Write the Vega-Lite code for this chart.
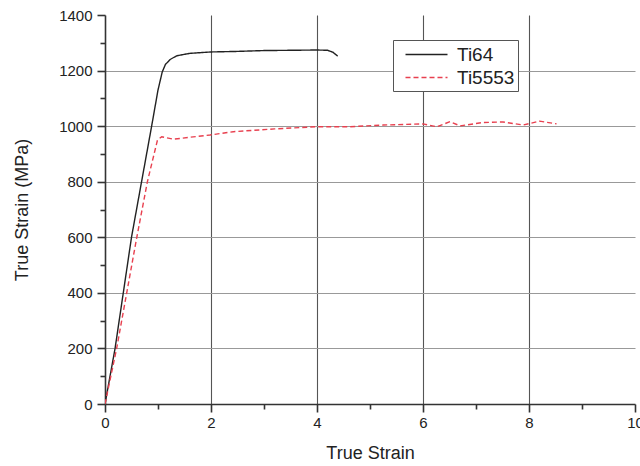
{
  "$schema": "https://vega.github.io/schema/vega-lite/v6.json",
  "width": 530,
  "height": 389,
  "autosize": {"type": "none"},
  "padding": {"left": 105, "top": 15, "right": 5, "bottom": 62},
  "background": "white",
  "config": {
    "view": {"stroke": null},
    "font": "Liberation Sans"
  },
  "data": {
    "values": [
      {"alloy": "Ti64", "strain": 0.0, "stress": 0},
      {"alloy": "Ti64", "strain": 0.19, "stress": 200},
      {"alloy": "Ti64", "strain": 0.5, "stress": 600},
      {"alloy": "Ti64", "strain": 0.69, "stress": 800},
      {"alloy": "Ti64", "strain": 0.88, "stress": 1000},
      {"alloy": "Ti64", "strain": 1.0, "stress": 1130},
      {"alloy": "Ti64", "strain": 1.08, "stress": 1195},
      {"alloy": "Ti64", "strain": 1.14, "stress": 1222},
      {"alloy": "Ti64", "strain": 1.23, "stress": 1240},
      {"alloy": "Ti64", "strain": 1.35, "stress": 1253},
      {"alloy": "Ti64", "strain": 1.6, "stress": 1262},
      {"alloy": "Ti64", "strain": 2.0, "stress": 1267},
      {"alloy": "Ti64", "strain": 2.5, "stress": 1269},
      {"alloy": "Ti64", "strain": 3.0, "stress": 1272},
      {"alloy": "Ti64", "strain": 3.5, "stress": 1273},
      {"alloy": "Ti64", "strain": 4.0, "stress": 1274},
      {"alloy": "Ti64", "strain": 4.2, "stress": 1273},
      {"alloy": "Ti64", "strain": 4.3, "stress": 1266},
      {"alloy": "Ti64", "strain": 4.39, "stress": 1252},
      {"alloy": "Ti5553", "strain": 0.0, "stress": 0},
      {"alloy": "Ti5553", "strain": 0.22, "stress": 200},
      {"alloy": "Ti5553", "strain": 0.6, "stress": 600},
      {"alloy": "Ti5553", "strain": 0.8, "stress": 800},
      {"alloy": "Ti5553", "strain": 0.99, "stress": 950},
      {"alloy": "Ti5553", "strain": 1.07, "stress": 962},
      {"alloy": "Ti5553", "strain": 1.29, "stress": 953},
      {"alloy": "Ti5553", "strain": 1.6, "stress": 960},
      {"alloy": "Ti5553", "strain": 1.98, "stress": 968},
      {"alloy": "Ti5553", "strain": 2.42, "stress": 980},
      {"alloy": "Ti5553", "strain": 3.2, "stress": 990},
      {"alloy": "Ti5553", "strain": 3.99, "stress": 998},
      {"alloy": "Ti5553", "strain": 4.62, "stress": 998},
      {"alloy": "Ti5553", "strain": 5.25, "stress": 1004},
      {"alloy": "Ti5553", "strain": 6.0, "stress": 1008},
      {"alloy": "Ti5553", "strain": 6.26, "stress": 998},
      {"alloy": "Ti5553", "strain": 6.51, "stress": 1016},
      {"alloy": "Ti5553", "strain": 6.7, "stress": 1001},
      {"alloy": "Ti5553", "strain": 7.13, "stress": 1013},
      {"alloy": "Ti5553", "strain": 7.51, "stress": 1015},
      {"alloy": "Ti5553", "strain": 7.89, "stress": 1004},
      {"alloy": "Ti5553", "strain": 8.2, "stress": 1018},
      {"alloy": "Ti5553", "strain": 8.52, "stress": 1008}
    ]
  },
  "mark": {"type": "line", "strokeWidth": 1.4, "clip": true},
  "encoding": {
    "x": {
      "field": "strain",
      "type": "quantitative",
      "scale": {"domain": [0, 10], "nice": false, "zero": true},
      "axis": {
        "title": "True Strain",
        "titleFontSize": 18,
        "titleFontWeight": "normal",
        "titleColor": "#222",
        "titlePadding": 14,
        "values": [0, 1, 2, 3, 4, 5, 6, 7, 8, 9, 10],
        "labelExpr": "datum.value % 2 == 0 ? datum.label : ''",
        "labelOverlap": false,
        "labelFontSize": 15,
        "labelColor": "#222",
        "labelPadding": 3,
        "labelFlush": false,
        "domainColor": "#333",
        "domainWidth": 1.6,
        "tickColor": "#333",
        "tickWidth": 1.6,
        "tickSize": {"condition": {"test": "datum.value % 2 == 0", "value": 8}, "value": 5},
        "grid": true,
        "gridColor": "#555",
        "gridWidth": 1.1,
        "gridOpacity": {"condition": {"test": "datum.value % 2 == 1 || datum.value == 0 || datum.value == 10", "value": 0}, "value": 1}
      }
    },
    "y": {
      "field": "stress",
      "type": "quantitative",
      "scale": {"domain": [0, 1400], "nice": false},
      "axis": {
        "title": "True Strain (MPa)",
        "titleFontSize": 18,
        "titleFontWeight": "normal",
        "titleColor": "#222",
        "titleX": -83,
        "titleBaseline": "middle",
        "values": [0, 100, 200, 300, 400, 500, 600, 700, 800, 900, 1000, 1100, 1200, 1300, 1400],
        "labelExpr": "datum.value % 200 == 0 ? datum.label : ''",
        "labelOverlap": false,
        "labelFontSize": 15,
        "labelColor": "#222",
        "labelPadding": 5,
        "labelFlush": false,
        "format": "d",
        "domainColor": "#333",
        "domainWidth": 1.6,
        "tickColor": "#333",
        "tickWidth": 1.6,
        "tickSize": {"condition": {"test": "datum.value % 200 == 0", "value": 8}, "value": 5},
        "grid": true,
        "gridColor": "#999",
        "gridWidth": 1.1,
        "gridOpacity": {"condition": {"test": "datum.value % 200 != 0 || datum.value == 0 || datum.value == 1400", "value": 0}, "value": 1}
      }
    },
    "color": {
      "field": "alloy",
      "type": "nominal",
      "scale": {"domain": ["Ti64", "Ti5553"], "range": ["#222222", "#e8404f"]},
      "legend": {
        "title": null,
        "orient": "none",
        "legendX": 288,
        "legendY": 25,
        "padding": 3,
        "strokeColor": "#555",
        "fillColor": "white",
        "symbolType": "M-2,0H2",
        "symbolSize": 441,
        "symbolOffset": 19,
        "symbolStrokeWidth": 1.4,
        "symbolFillColor": "transparent",
        "labelFontSize": 19,
        "labelColor": "#222",
        "labelOffset": 19,
        "rowPadding": 1
      }
    },
    "strokeDash": {
      "field": "alloy",
      "type": "nominal",
      "scale": {"domain": ["Ti64", "Ti5553"], "range": [[1, 0], [5, 3]]},
      "legend": {
        "title": null,
        "orient": "none",
        "legendX": 288,
        "legendY": 25,
        "padding": 3,
        "strokeColor": "#555",
        "fillColor": "white",
        "symbolType": "M-2,0H2",
        "symbolSize": 441,
        "symbolOffset": 19,
        "symbolStrokeWidth": 1.4,
        "symbolFillColor": "transparent",
        "labelFontSize": 19,
        "labelColor": "#222",
        "labelOffset": 19,
        "rowPadding": 1
      }
    },
    "order": {"field": "strain", "type": "quantitative"}
  }
}
